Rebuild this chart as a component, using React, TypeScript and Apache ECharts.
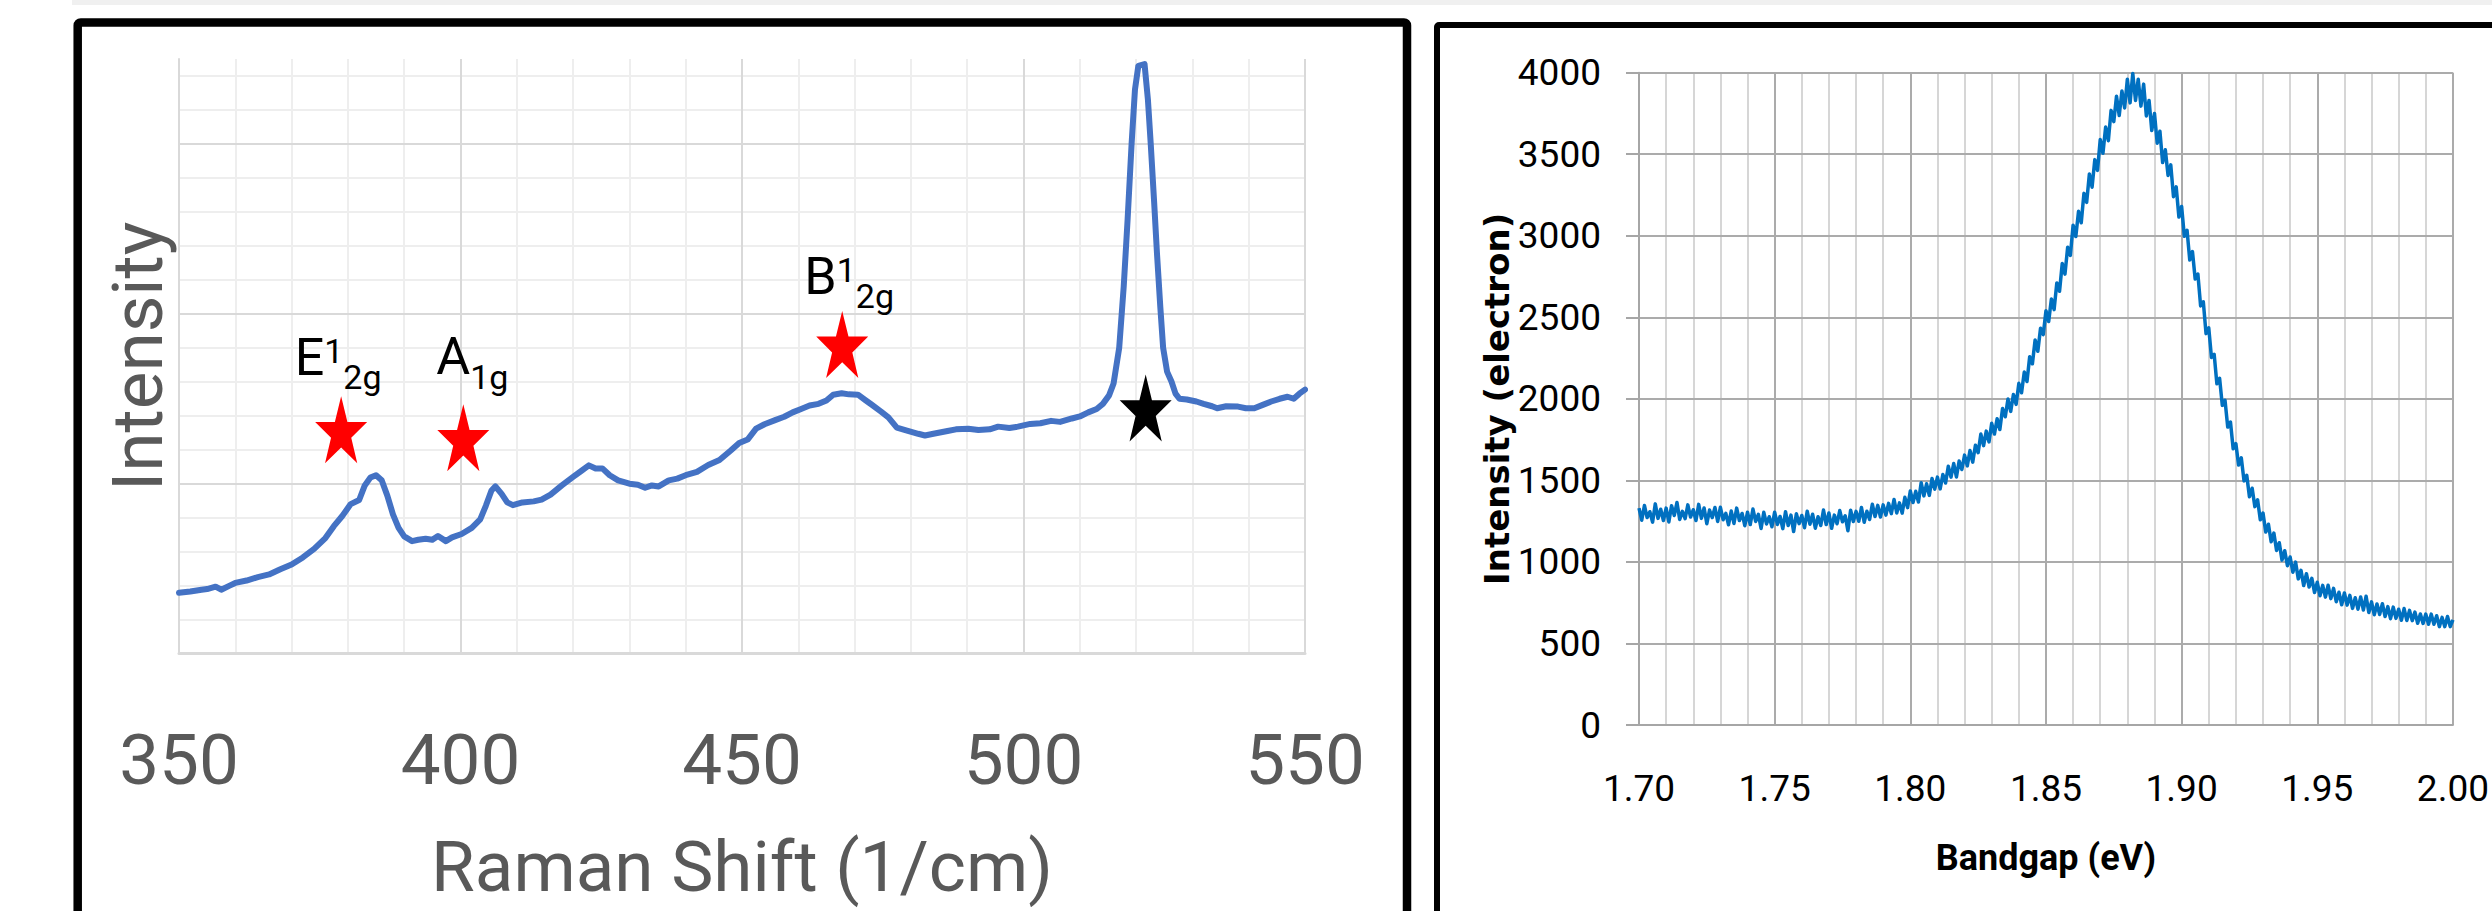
import React, { useEffect, useRef } from 'react';
import * as echarts from 'echarts';

// ---------- Raman spectrum (left panel) ----------
const ramanShift = [
  350, 352, 354, 355, 356.5, 357.5, 359, 360, 362, 364, 366, 368, 370, 372, 374, 376, 377.5, 379, 380.5, 382,
  383, 384, 385, 386, 387, 388, 389, 390, 391.4, 392.5, 393.8, 395, 396, 397.4, 398.5, 400.2, 402, 403.5, 404.5, 405.5,
  406.2, 407.3, 408.3, 409.3, 411, 413, 414.4, 416, 418, 420, 421.5, 422.8, 424, 425.2, 426.5, 428, 430, 431.5, 432.8, 434,
  435.2, 437, 438.5, 440, 442, 444, 446, 448, 449.5, 451, 452.5, 454, 456, 457.5, 459, 460.5, 462, 463.6, 465, 466.2,
  467.7, 469, 470.6, 472, 473, 474.7, 476, 477.5, 479, 481.3, 482.5, 484, 486.5, 488, 490.2, 492, 494, 495.5, 497.5, 499,
  501.2, 503, 504.9, 506.5, 508.6, 510, 511.5, 513, 514.1, 515.2, 516, 517, 517.8, 518.5, 519.2, 519.8, 520.4, 521.5, 522.1, 522.6,
  523.2, 523.7, 524.3, 524.8, 525.5, 526.3, 527, 527.7, 529, 530.7, 532, 533.5, 534.4, 536, 538.1, 539.5, 541, 542.5, 544, 545.5,
  546.9, 548, 549, 550
];
const ramanIntensity = [
  1.79, 1.83, 1.88, 1.9, 1.97, 1.88, 2.0, 2.08, 2.15, 2.25, 2.33, 2.48, 2.62, 2.83, 3.08, 3.4, 3.75, 4.05, 4.4, 4.52,
  4.95, 5.18, 5.25, 5.1, 4.65, 4.1, 3.7, 3.45, 3.31, 3.35, 3.38, 3.35, 3.46, 3.31, 3.42, 3.52, 3.7, 3.95, 4.35, 4.8,
  4.92, 4.7, 4.45, 4.37, 4.45, 4.48, 4.53, 4.68, 4.95, 5.2, 5.38, 5.54, 5.45, 5.45, 5.25, 5.1, 5.0, 4.97, 4.88, 4.95,
  4.92, 5.1, 5.15, 5.25, 5.35, 5.55, 5.7, 5.98, 6.2, 6.3, 6.62, 6.75, 6.88, 6.97, 7.1, 7.2, 7.3, 7.35, 7.45, 7.62,
  7.66, 7.63, 7.62, 7.45, 7.33, 7.12, 6.95, 6.65, 6.58, 6.47, 6.42, 6.47, 6.55, 6.6, 6.62, 6.58, 6.6, 6.68, 6.64, 6.68,
  6.76, 6.78, 6.85, 6.82, 6.92, 6.98, 7.1, 7.2, 7.35, 7.6, 7.95, 9.0, 10.8, 12.8, 15.0, 16.6, 17.3, 17.35, 16.3, 15.0,
  13.3, 11.8, 10.2, 9.0, 8.3, 8.0, 7.65, 7.5, 7.48, 7.42, 7.35, 7.28, 7.22, 7.28, 7.27, 7.22, 7.22, 7.32, 7.42, 7.5,
  7.56, 7.5, 7.65, 7.77
];
const ramanTicks = [350, 400, 450, 500, 550];
const ramanMinorStep = 10;
const ramanLevelMax = 17.5;
const ramanLevelMajor = 5;
const ramanLevelMinor = 1;

// peak markers
const peakShift = [378.8, 400.5, 467.8, 521.7];
const peakLevel = [6.59, 6.35, 9.1, 7.23];
const peakColors = ['#FF0000', '#FF0000', '#FF0000', '#000000'];
const peakLabels = ['{b|E}{sup|1}{sub|2g}', '{b|A}{sub|1g}', '{b|B}{sup|1}{sub|2g}', ''];

// ---------- PL spectrum (right panel) ----------
const bandgapStart = 1.7;
const bandgapStep = 0.001;
const plIntensity = [
  1330, 1256, 1346, 1272, 1308, 1244, 1356, 1267, 1323, 1254,
  1330, 1245, 1345, 1285, 1365, 1260, 1310, 1265, 1350, 1275,
  1320, 1254, 1353, 1267, 1331, 1234, 1318, 1272, 1334, 1248,
  1335, 1259, 1298, 1228, 1312, 1236, 1330, 1254, 1297, 1222,
  1305, 1229, 1324, 1248, 1292, 1205, 1304, 1233, 1277, 1216,
  1305, 1230, 1279, 1204, 1308, 1223, 1287, 1186, 1296, 1235,
  1285, 1210, 1311, 1231, 1292, 1207, 1277, 1223, 1318, 1229,
  1300, 1206, 1287, 1234, 1315, 1246, 1283, 1191, 1317, 1248,
  1310, 1249, 1334, 1243, 1311, 1260, 1354, 1278, 1347, 1275,
  1350, 1287, 1359, 1296, 1383, 1300, 1362, 1299, 1396, 1333,
  1435, 1364, 1433, 1367, 1486, 1405, 1479, 1408, 1512, 1446,
  1520, 1448, 1536, 1484, 1587, 1520, 1603, 1521, 1619, 1567,
  1655, 1589, 1683, 1612, 1716, 1670, 1784, 1713, 1802, 1736,
  1850, 1784, 1878, 1812, 1941, 1890, 1999, 1923, 2027, 1966,
  2095, 2037, 2164, 2106, 2258, 2215, 2361, 2292, 2433, 2394,
  2540, 2474, 2613, 2547, 2711, 2660, 2830, 2765, 2930, 2880,
  3065, 2995, 3150, 3080, 3260, 3205, 3379, 3298, 3467, 3401,
  3590, 3506, 3667, 3583, 3769, 3700, 3856, 3737, 3888, 3784,
  3960, 3815, 3995, 3830, 3960, 3795, 3930, 3735, 3830, 3645,
  3750, 3568, 3641, 3449, 3527, 3370, 3435, 3240, 3300, 3115,
  3180, 2997, 3034, 2851, 2903, 2735, 2765, 2570, 2595, 2400,
  2435, 2254, 2273, 2092, 2126, 1960, 1991, 1827, 1858, 1694,
  1725, 1594, 1638, 1497, 1531, 1400, 1452, 1339, 1381, 1258,
  1300, 1183, 1231, 1124, 1177, 1070, 1118, 1011, 1069, 977,
  1030, 937, 999, 896, 948, 855, 928, 846, 899, 812,
  875, 793, 856, 784, 857, 775, 838, 756, 814, 737,
  810, 735, 795, 715, 780, 710, 785, 705, 790, 690,
  755, 676, 742, 678, 744, 665, 726, 652, 723, 654,
  710, 642, 714, 641, 703, 640, 692, 624, 681, 623,
  680, 618, 680, 618, 670, 603, 660, 603, 665, 603, 645
];
const bandgapTicks = ['1.70', '1.75', '1.80', '1.85', '1.90', '1.95', '2.00'];
const bandgapMinorStep = 0.01;
const plTicks = [0, 500, 1000, 1500, 2000, 2500, 3000, 3500, 4000];

const STAR = 'path://M50 0 L61.8 35.1 L98.9 35.1 L69 56.7 L80.3 91.5 L50 70 L19.7 91.5 L31 56.7 L1.1 35.1 L38.2 35.1 Z';
const FONT = 'Roboto';
const labelOffsets: number[][] = [[-3, -72.5], [9, -81], [7, -68], [0, 0]];

export default function App() {
  const ref = useRef<HTMLDivElement>(null);

  useEffect(() => {
    if (!ref.current) return;
    const chart = echarts.init(ref.current, null, { renderer: 'svg' });

    const ramanData = ramanShift.map((x, i) => [x, ramanIntensity[i]]);
    const peakData = peakShift.map((x, i) => ({
      value: [x, peakLevel[i]],
      itemStyle: { color: peakColors[i], opacity: 1 },
      label: { offset: labelOffsets[i] },
    }));
    const plData = plIntensity.map((v, i) => [
      Number((bandgapStart + i * bandgapStep).toFixed(3)),
      v,
    ]);
    const bgMin = Number(bandgapTicks[0]);
    const bgMax = Number(bandgapTicks[bandgapTicks.length - 1]);
    const bgInterval = Number(bandgapTicks[1]) - Number(bandgapTicks[0]);

    const option: any = {
      animation: false,
      backgroundColor: '#ffffff',
      graphic: [
        { type: 'rect', z: -10, silent: true, shape: { x: 72, y: 0, width: 2430, height: 5 }, style: { fill: '#f0f0f0' } },
        { type: 'rect', z: 10, silent: true, shape: { x: 77.7, y: 22.5, width: 1329.3, height: 960, r: 3 }, style: { fill: 'none', stroke: '#000000', lineWidth: 8.5 } },
        { type: 'rect', z: 10, silent: true, shape: { x: 1437, y: 25, width: 1120, height: 960, r: 2 }, style: { fill: 'none', stroke: '#000000', lineWidth: 6 } },
      ],
      grid: [
        { left: 179, top: 59, width: 1126, height: 594.6 },
        { left: 1639, top: 72.7, width: 826, height: 652.3 },
      ],
      xAxis: [
        {
          gridIndex: 0, type: 'value', position: 'bottom', z: 0,
          min: ramanTicks[0], max: ramanTicks[ramanTicks.length - 1], interval: ramanMinorStep,
          axisLine: { show: false }, axisTick: { show: false }, axisLabel: { show: false },
          splitLine: { show: true, lineStyle: { color: '#eeeeee', width: 2 } },
        },
        {
          gridIndex: 0, type: 'value', position: 'bottom', z: 1,
          min: ramanTicks[0], max: ramanTicks[ramanTicks.length - 1], interval: ramanTicks[1] - ramanTicks[0],
          axisLine: { show: true, lineStyle: { color: '#d9d9d9', width: 3 } },
          axisTick: { show: false },
          axisLabel: { color: '#595959', fontFamily: FONT, fontSize: 71, margin: 70 },
          splitLine: { show: true, lineStyle: { color: '#d9d9d9', width: 2 } },
          name: 'Raman Shift (1/cm)', nameLocation: 'middle', nameGap: 177,
          nameTextStyle: { color: '#595959', fontFamily: FONT, fontSize: 71 },
        },
        {
          gridIndex: 1, type: 'value', position: 'bottom', z: 0,
          min: bgMin, max: bgMax, interval: bandgapMinorStep,
          axisLine: { show: false }, axisTick: { show: false }, axisLabel: { show: false },
          splitLine: { show: true, lineStyle: { color: '#d6d6d6', width: 2 } },
        },
        {
          gridIndex: 1, type: 'value', position: 'bottom', z: 1,
          min: bgMin, max: bgMax, interval: bgInterval,
          axisLine: { show: true, lineStyle: { color: '#a6a6a6', width: 2 } },
          axisTick: { show: false },
          axisLabel: { color: '#000000', fontFamily: FONT, fontSize: 37, margin: 45, formatter: (v: number) => v.toFixed(2) },
          splitLine: { show: true, lineStyle: { color: '#ababab', width: 2 } },
          name: 'Bandgap (eV)', nameLocation: 'middle', nameGap: 115,
          nameTextStyle: { color: '#000000', fontFamily: FONT, fontSize: 36, fontWeight: 'bold' },
        },
      ],
      yAxis: [
        {
          gridIndex: 0, type: 'value', position: 'left', z: 0,
          min: 0, max: ramanLevelMax, interval: ramanLevelMinor,
          axisLine: { show: false }, axisTick: { show: false }, axisLabel: { show: false },
          splitLine: { show: true, showMaxLine: false, lineStyle: { color: '#eeeeee', width: 2 } },
        },
        {
          gridIndex: 0, type: 'value', position: 'left', z: 1,
          min: 0, max: ramanLevelMax, interval: ramanLevelMajor,
          axisLine: { show: true, lineStyle: { color: '#d9d9d9', width: 2 } },
          axisTick: { show: false }, axisLabel: { show: false },
          splitLine: { show: true, showMaxLine: false, lineStyle: { color: '#d9d9d9', width: 2 } },
          name: 'Intensity', nameLocation: 'middle', nameGap: 6,
          nameTextStyle: { color: '#595959', fontFamily: FONT, fontSize: 71 },
        },
        {
          gridIndex: 1, type: 'value', position: 'left', z: 1,
          min: plTicks[0], max: plTicks[plTicks.length - 1], interval: plTicks[1] - plTicks[0],
          axisLine: { show: true, lineStyle: { color: '#a6a6a6', width: 2 } },
          axisTick: { show: true, length: 13, lineStyle: { color: '#a6a6a6', width: 2 } },
          axisLabel: { color: '#000000', fontFamily: FONT, fontSize: 37, margin: 38, formatter: (v: number) => String(v) },
          splitLine: { show: true, lineStyle: { color: '#ababab', width: 2 } },
          name: 'Intensity (electron)', nameLocation: 'middle', nameGap: 125,
          nameTextStyle: { color: '#000000', fontFamily: '"DejaVu Sans"', fontSize: 34, fontWeight: 'bold' },
        },
      ],
      series: [
        {
          type: 'line', xAxisIndex: 1, yAxisIndex: 1, data: ramanData,
          showSymbol: false, symbol: 'none', z: 3,
          lineStyle: { color: '#4472C4', width: 6, join: 'round', cap: 'round' },
        },
        {
          type: 'scatter', xAxisIndex: 1, yAxisIndex: 1, data: peakData, z: 4,
          symbol: STAR, symbolSize: [52, 67],
          label: {
            show: true, position: 'inside',
            formatter: (p: any) => peakLabels[p.dataIndex],
            rich: {
              b: { fontFamily: FONT, fontSize: 52, color: '#000000', lineHeight: 74 },
              sup: { fontFamily: FONT, fontSize: 34, color: '#000000', lineHeight: 10, verticalAlign: 'top', padding: [13.5, 0, 0, 0] },
              sub: { fontFamily: FONT, fontSize: 34, color: '#000000', lineHeight: 10, verticalAlign: 'bottom', padding: [0, 0, 0, 0] },
            },
          },
        },
        {
          type: 'line', xAxisIndex: 3, yAxisIndex: 2, data: plData,
          showSymbol: false, symbol: 'none', z: 3,
          lineStyle: { color: '#0070C0', width: 3.5, join: 'round' },
        },
      ],
    };

    chart.setOption(option);
    return () => chart.dispose();
  }, []);

  return (
    <div
      ref={ref}
      style={{ position: 'absolute', left: 0, top: 0, width: 2492, height: 911, background: '#ffffff' }}
    />
  );
}
